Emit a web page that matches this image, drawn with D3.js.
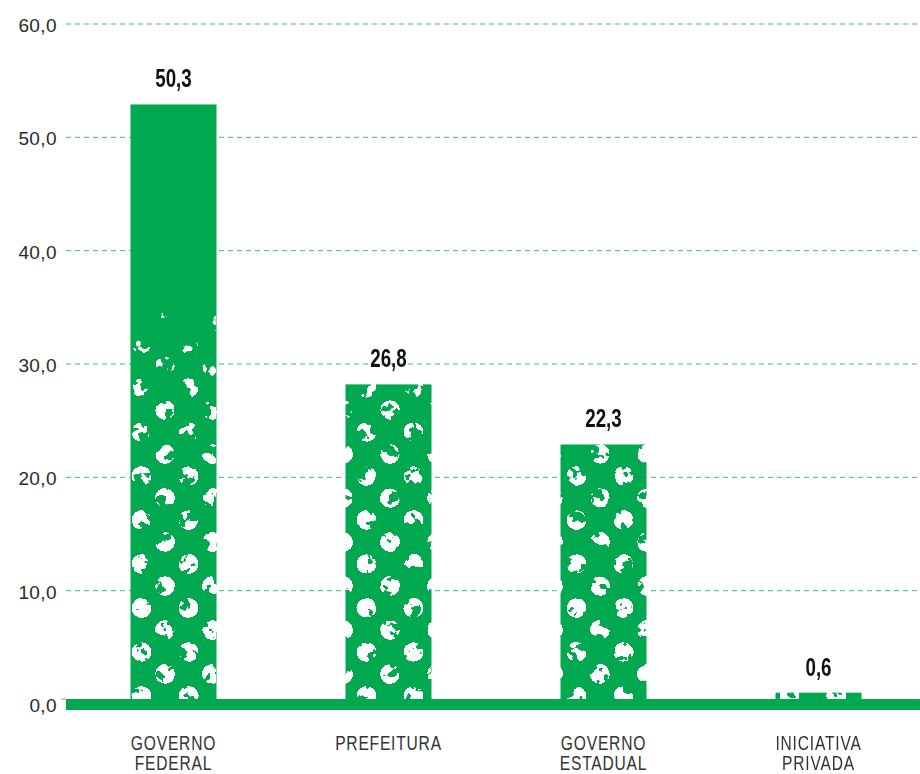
<!DOCTYPE html>
<html>
<head>
<meta charset="utf-8">
<script src="https://cdn.jsdelivr.net/npm/d3@7"></script>
<style>
  body { margin: 0; background: #fff; }
  svg { display: block; }
</style>
</head>
<body>
<div id="chart"></div>
<script>
// categories (two-line labels) and values
const categories = ['GOVERNO FEDERAL', 'PREFEITURA', 'GOVERNO ESTADUAL', 'INICIATIVA PRIVADA'];
const categoryLines = [['GOVERNO', 'FEDERAL'], ['PREFEITURA'], ['GOVERNO', 'ESTADUAL'], ['INICIATIVA', 'PRIVADA']];
const values = [50.3, 26.8, 22.3, 0.6];
// bar heights as they are drawn in the picture (the source draws them a bit taller than the labels)
const barHeights = [52.9, 28.2, 22.9, 1.0];
const yTicks = [0, 10, 20, 30, 40, 50, 60];

const width = 920, height = 774;
const green = '#00a84f';

const svg = d3.select('#chart').append('svg')
  .attr('width', width)
  .attr('height', height);

const x = d3.scaleBand()
  .domain(categories)
  .range([66, 926])
  .paddingInner(0.6)
  .paddingOuter(0.3);

const y = d3.scaleLinear()
  .domain([0, 60])
  .range([704, 24]);

const fmt = v => d3.format('.1f')(v).replace('.', ',');

const defs = svg.append('defs');

// fade of the dot texture: nothing at the top, full at the bottom
const grad = defs.append('linearGradient')
  .attr('id', 'fade')
  .attr('gradientUnits', 'userSpaceOnUse')
  .attr('x1', 0).attr('x2', 0)
  .attr('y1', 200).attr('y2', 530);
grad.append('stop').attr('offset', 0).attr('stop-color', '#fff').attr('stop-opacity', 0);
grad.append('stop').attr('offset', 1).attr('stop-color', '#fff').attr('stop-opacity', 1);

// grunge filter: noise eats the dots, more where they fade
const filt = defs.append('filter')
  .attr('id', 'grunge')
  .attr('filterUnits', 'userSpaceOnUse')
  .attr('x', 0).attr('y', 0).attr('width', width).attr('height', height)
  .attr('color-interpolation-filters', 'sRGB');
filt.append('feTurbulence')
  .attr('type', 'fractalNoise')
  .attr('baseFrequency', 0.09)
  .attr('numOctaves', 3)
  .attr('seed', 7)
  .attr('result', 'noise');
filt.append('feColorMatrix')
  .attr('in', 'noise')
  .attr('type', 'matrix')
  .attr('values', '0 0 0 0 0  0 0 0 0 0  0 0 0 0 0  1 0 0 0 0')
  .attr('result', 'na');
filt.append('feComposite')
  .attr('in', 'SourceGraphic')
  .attr('in2', 'na')
  .attr('operator', 'arithmetic')
  .attr('k1', 3.5).attr('k2', -0.98).attr('k3', 0).attr('k4', 0)
  .attr('result', 'mix');
const ct = filt.append('feComponentTransfer').attr('in', 'mix').attr('result', 'thr');
ct.append('feFuncA').attr('type', 'linear').attr('slope', 20).attr('intercept', -10);
filt.append('feColorMatrix')
  .attr('in', 'thr')
  .attr('type', 'matrix')
  .attr('values', '0 0 0 0 1  0 0 0 0 1  0 0 0 0 1  0 0 0 1 0');

// gridlines
svg.append('g')
  .selectAll('line')
  .data(yTicks.filter(d => d > 0))
  .join('line')
  .attr('x1', 66).attr('x2', width)
  .attr('y1', d => y(d)).attr('y2', d => y(d))
  .attr('stroke', '#3dbd6e')
  .attr('stroke-width', 1)
  .attr('stroke-dasharray', '5,4');

// y labels
svg.append('g')
  .selectAll('text')
  .data(yTicks)
  .join('text')
  .attr('x', 57)
  .attr('y', d => y(d))
  .attr('dy', '0.42em')
  .attr('text-anchor', 'end')
  .attr('font-family', 'Liberation Sans, Arial, sans-serif')
  .attr('font-size', 19)
  .attr('letter-spacing', 0.4)
  .attr('fill', '#2a2a2a')
  .text(fmt);

// small tick at zero
svg.append('line')
  .attr('x1', 61).attr('x2', 66)
  .attr('y1', y(0) - 5).attr('y2', y(0) - 5)
  .attr('stroke', '#999');

// bars
const bars = svg.append('g');
bars.selectAll('rect')
  .data(categories)
  .join('rect')
  .attr('x', d => x(d))
  .attr('width', x.bandwidth())
  .attr('y', (d, i) => y(barHeights[i]))
  .attr('height', (d, i) => y(0) - y(barHeights[i]))
  .attr('fill', green);

// clip paths for the texture
categories.forEach((c, i) => {
  defs.append('clipPath').attr('id', 'clip' + i)
    .append('rect')
    .attr('x', x(c))
    .attr('width', x.bandwidth())
    .attr('y', y(barHeights[i]))
    .attr('height', y(0) - y(barHeights[i]));
});

// white dot texture: staggered rows, 47px apart in a row, 22px between rows
const tex = svg.append('g').attr('filter', 'url(#grunge)');
const phase = [11, 21, 16, 14];
categories.forEach((c, i) => {
  const g = tex.append('g').attr('clip-path', 'url(#clip' + i + ')');
  const x0 = x(c), top = y(barHeights[i]);
  const dots = [];
  let row = 0;
  for (let cy = y(0) - 8; cy > top - 12; cy -= 22, row++) {
    const start = row % 2 ? phase[i] - 23.5 : phase[i];
    for (let cx = x0 + start; cx < x0 + x.bandwidth() + 12; cx += 47) {
      dots.push([cx, cy]);
    }
  }
  g.selectAll('circle')
    .data(dots)
    .join('circle')
    .attr('cx', d => d[0])
    .attr('cy', d => d[1])
    .attr('r', 10)
    .attr('fill', 'url(#fade)');
});

// baseline
svg.append('rect')
  .attr('x', 66).attr('width', width - 66)
  .attr('y', y(0) - 5).attr('height', 11)
  .attr('fill', green);

// value labels
svg.append('g')
  .selectAll('text')
  .data(categories)
  .join('text')
  .attr('transform', (d, i) => `translate(${x(d) + x.bandwidth() / 2},${y(barHeights[i]) - 17}) scale(0.75,1)`)
  .attr('text-anchor', 'middle')
  .attr('font-family', 'Liberation Sans, Arial, sans-serif')
  .attr('font-weight', 'bold')
  .attr('font-size', 25)
  .attr('fill', '#111')
  .text((d, i) => fmt(values[i]));

// category labels
const cat = svg.append('g')
  .selectAll('text')
  .data(categories)
  .join('text')
  .attr('transform', d => `translate(${x(d) + x.bandwidth() / 2},750) scale(0.8,1)`)
  .attr('text-anchor', 'middle')
  .attr('font-family', 'Liberation Sans, Arial, sans-serif')
  .attr('font-size', 19.5)
  .attr('letter-spacing', 1)
  .attr('fill', '#333');
cat.selectAll('tspan')
  .data((d, i) => categoryLines[i])
  .join('tspan')
  .attr('x', 0)
  .attr('dy', (d, j) => j === 0 ? 0 : 20)
  .text(d => d);
</script>
</body>
</html>
